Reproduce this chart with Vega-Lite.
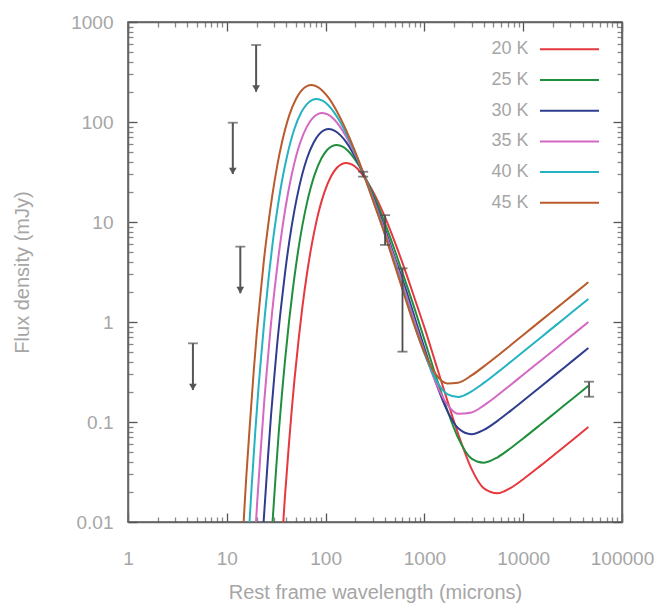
{
  "$schema": "https://vega.github.io/schema/vega-lite/v6.json",
  "width": 494,
  "height": 500,
  "autosize": {"type": "none"},
  "padding": {"left": 128, "top": 22, "right": 48, "bottom": 86},
  "background": "white",
  "config": {
    "view": {"stroke": "#555555", "strokeWidth": 1.5},
    "axis": {"grid": false, "domainColor": "#666666", "domainWidth": 1.5, "tickColor": "#555555", "tickWidth": 1.3,
      "labelColor": "#a6a6a6", "labelFont": "Liberation Sans", "labelFontSize": 19,
      "titleColor": "#a6a6a6", "titleFont": "Liberation Sans", "titleFontSize": 20, "titleFontWeight": "normal"},
    "legend": {"labelFont": "Liberation Sans"}
  },
  "datasets": {
    "curves": [
      {"T":"20 K","lam":34.0,"S":0.00234},{"T":"20 K","lam":35.6,"S":0.00498},{"T":"20 K","lam":38.8,"S":0.01816},{"T":"20 K","lam":42.1,"S":0.0527},{"T":"20 K","lam":45.3,"S":0.128},{"T":"20 K","lam":48.5,"S":0.270},{"T":"20 K","lam":53.4,"S":0.679},{"T":"20 K","lam":58.2,"S":1.409},{"T":"20 K","lam":64.7,"S":3.02},{"T":"20 K","lam":72.8,"S":6.11},{"T":"20 K","lam":80.9,"S":10.21},{"T":"20 K","lam":97.1,"S":19.77},{"T":"20 K","lam":113.3,"S":28.5},{"T":"20 K","lam":129.4,"S":34.7},{"T":"20 K","lam":145.6,"S":38.0},{"T":"20 K","lam":161.8,"S":39.0},{"T":"20 K","lam":186.1,"S":37.5},{"T":"20 K","lam":210.3,"S":34.1},{"T":"20 K","lam":250,"S":27.5},{"T":"20 K","lam":320,"S":18.0},{"T":"20 K","lam":400,"S":11.1},{"T":"20 K","lam":500,"S":6.36},{"T":"20 K","lam":630,"S":3.40},{"T":"20 K","lam":800,"S":1.70},{"T":"20 K","lam":1000,"S":0.883},{"T":"20 K","lam":1300,"S":0.386},{"T":"20 K","lam":1700,"S":0.166},{"T":"20 K","lam":2200,"S":0.0758},{"T":"20 K","lam":3000,"S":0.0340},{"T":"20 K","lam":4000,"S":0.0217},{"T":"20 K","lam":5500,"S":0.0194},{"T":"20 K","lam":7500,"S":0.0220},{"T":"20 K","lam":10000,"S":0.0268},{"T":"20 K","lam":15000,"S":0.0366},{"T":"20 K","lam":22000,"S":0.0496},{"T":"20 K","lam":32000,"S":0.0669},{"T":"20 K","lam":45700,"S":0.089},
      {"T":"25 K","lam":27.2,"S":0.00355},{"T":"25 K","lam":28.5,"S":0.00753},{"T":"25 K","lam":31.1,"S":0.0275},{"T":"25 K","lam":33.6,"S":0.0798},{"T":"25 K","lam":36.2,"S":0.1936},{"T":"25 K","lam":38.8,"S":0.409},{"T":"25 K","lam":42.7,"S":1.028},{"T":"25 K","lam":46.6,"S":2.133},{"T":"25 K","lam":51.8,"S":4.57},{"T":"25 K","lam":58.2,"S":9.25},{"T":"25 K","lam":64.7,"S":15.45},{"T":"25 K","lam":77.6,"S":29.9},{"T":"25 K","lam":90.6,"S":43.2},{"T":"25 K","lam":103.5,"S":52.5},{"T":"25 K","lam":116.5,"S":57.5},{"T":"25 K","lam":129.4,"S":59},{"T":"25 K","lam":148.8,"S":56.8},{"T":"25 K","lam":168.2,"S":51.6},{"T":"25 K","lam":194.1,"S":43.6},{"T":"25 K","lam":226.5,"S":34.3},{"T":"25 K","lam":250,"S":28.4},{"T":"25 K","lam":320,"S":16.79},{"T":"25 K","lam":400,"S":9.62},{"T":"25 K","lam":500,"S":5.25},{"T":"25 K","lam":630,"S":2.70},{"T":"25 K","lam":800,"S":1.339},{"T":"25 K","lam":1000,"S":0.666},{"T":"25 K","lam":1300,"S":0.292},{"T":"25 K","lam":1700,"S":0.132},{"T":"25 K","lam":2200,"S":0.0689},{"T":"25 K","lam":3000,"S":0.0430},{"T":"25 K","lam":4000,"S":0.0392},{"T":"25 K","lam":5500,"S":0.0444},{"T":"25 K","lam":7500,"S":0.0549},{"T":"25 K","lam":10000,"S":0.0685},{"T":"25 K","lam":15000,"S":0.0944},{"T":"25 K","lam":22000,"S":0.1282},{"T":"25 K","lam":32000,"S":0.1729},{"T":"25 K","lam":45700,"S":0.23},
      {"T":"30 K","lam":21.6,"S":0.0022},{"T":"30 K","lam":22.6,"S":0.0051},{"T":"30 K","lam":23.7,"S":0.01084},{"T":"30 K","lam":25.9,"S":0.0395},{"T":"30 K","lam":28.0,"S":0.1148},{"T":"30 K","lam":30.2,"S":0.2786},{"T":"30 K","lam":32.3,"S":0.589},{"T":"30 K","lam":35.6,"S":1.479},{"T":"30 K","lam":38.8,"S":3.07},{"T":"30 K","lam":43.1,"S":6.58},{"T":"30 K","lam":48.5,"S":13.30},{"T":"30 K","lam":53.9,"S":22.2},{"T":"30 K","lam":64.7,"S":43.1},{"T":"30 K","lam":75.5,"S":62.1},{"T":"30 K","lam":86.2,"S":75.5},{"T":"30 K","lam":97.0,"S":82.8},{"T":"30 K","lam":107.8,"S":85},{"T":"30 K","lam":124.0,"S":81.7},{"T":"30 K","lam":140.1,"S":74.3},{"T":"30 K","lam":161.7,"S":62.8},{"T":"30 K","lam":188.7,"S":49.3},{"T":"30 K","lam":215.6,"S":38.4},{"T":"30 K","lam":250,"S":27.8},{"T":"30 K","lam":320,"S":15.45},{"T":"30 K","lam":400,"S":8.43},{"T":"30 K","lam":500,"S":4.47},{"T":"30 K","lam":630,"S":2.31},{"T":"30 K","lam":800,"S":1.098},{"T":"30 K","lam":1000,"S":0.548},{"T":"30 K","lam":1300,"S":0.252},{"T":"30 K","lam":1700,"S":0.130},{"T":"30 K","lam":2200,"S":0.0865},{"T":"30 K","lam":3000,"S":0.0754},{"T":"30 K","lam":4000,"S":0.0833},{"T":"30 K","lam":5500,"S":0.1027},{"T":"30 K","lam":7500,"S":0.130},{"T":"30 K","lam":10000,"S":0.163},{"T":"30 K","lam":15000,"S":0.2256},{"T":"30 K","lam":22000,"S":0.3065},{"T":"30 K","lam":32000,"S":0.4134},{"T":"30 K","lam":45700,"S":0.55},
      {"T":"35 K","lam":18.5,"S":0.00319},{"T":"35 K","lam":19.4,"S":0.0074},{"T":"35 K","lam":20.3,"S":0.0157},{"T":"35 K","lam":22.2,"S":0.0573},{"T":"35 K","lam":24.0,"S":0.1663},{"T":"35 K","lam":25.9,"S":0.404},{"T":"35 K","lam":27.7,"S":0.853},{"T":"35 K","lam":30.5,"S":2.143},{"T":"35 K","lam":33.3,"S":4.45},{"T":"35 K","lam":37.0,"S":9.53},{"T":"35 K","lam":41.6,"S":19.28},{"T":"35 K","lam":46.2,"S":32.2},{"T":"35 K","lam":55.4,"S":62.4},{"T":"35 K","lam":64.7,"S":89.9},{"T":"35 K","lam":73.9,"S":109.4},{"T":"35 K","lam":83.2,"S":119.9},{"T":"35 K","lam":92.4,"S":123},{"T":"35 K","lam":106.3,"S":118.3},{"T":"35 K","lam":120.1,"S":107.6},{"T":"35 K","lam":138.6,"S":91.0},{"T":"35 K","lam":161.7,"S":71.4},{"T":"35 K","lam":184.8,"S":55.6},{"T":"35 K","lam":231.0,"S":34.1},{"T":"35 K","lam":250,"S":28.1},{"T":"35 K","lam":320,"S":14.76},{"T":"35 K","lam":400,"S":7.93},{"T":"35 K","lam":500,"S":4.24},{"T":"35 K","lam":630,"S":2.08},{"T":"35 K","lam":800,"S":0.987},{"T":"35 K","lam":1000,"S":0.504},{"T":"35 K","lam":1300,"S":0.249},{"T":"35 K","lam":1700,"S":0.150},{"T":"35 K","lam":2200,"S":0.1207},{"T":"35 K","lam":3000,"S":0.1244},{"T":"35 K","lam":4000,"S":0.1468},{"T":"35 K","lam":5500,"S":0.185},{"T":"35 K","lam":7500,"S":0.236},{"T":"35 K","lam":10000,"S":0.297},{"T":"35 K","lam":15000,"S":0.410},{"T":"35 K","lam":22000,"S":0.557},{"T":"35 K","lam":32000,"S":0.752},{"T":"35 K","lam":45700,"S":1.0},
      {"T":"40 K","lam":16.2,"S":0.0044},{"T":"40 K","lam":17.0,"S":0.0102},{"T":"40 K","lam":17.8,"S":0.0217},{"T":"40 K","lam":19.4,"S":0.0791},{"T":"40 K","lam":21.0,"S":0.2296},{"T":"40 K","lam":22.7,"S":0.557},{"T":"40 K","lam":24.3,"S":1.178},{"T":"40 K","lam":26.7,"S":2.958},{"T":"40 K","lam":29.1,"S":6.14},{"T":"40 K","lam":32.4,"S":13.15},{"T":"40 K","lam":36.4,"S":26.6},{"T":"40 K","lam":40.5,"S":44.5},{"T":"40 K","lam":48.5,"S":86.1},{"T":"40 K","lam":56.6,"S":124.2},{"T":"40 K","lam":64.7,"S":151.0},{"T":"40 K","lam":72.8,"S":165.6},{"T":"40 K","lam":80.9,"S":170},{"T":"40 K","lam":93.0,"S":163.3},{"T":"40 K","lam":105.2,"S":148.6},{"T":"40 K","lam":121.4,"S":125.6},{"T":"40 K","lam":141.6,"S":98.6},{"T":"40 K","lam":161.8,"S":76.7},{"T":"40 K","lam":202.3,"S":47.1},{"T":"40 K","lam":242.7,"S":30.0},{"T":"40 K","lam":320,"S":14.19},{"T":"40 K","lam":400,"S":7.44},{"T":"40 K","lam":500,"S":3.88},{"T":"40 K","lam":630,"S":1.896},{"T":"40 K","lam":800,"S":0.914},{"T":"40 K","lam":1000,"S":0.485},{"T":"40 K","lam":1300,"S":0.267},{"T":"40 K","lam":1700,"S":0.190},{"T":"40 K","lam":2200,"S":0.178},{"T":"40 K","lam":3000,"S":0.202},{"T":"40 K","lam":4000,"S":0.246},{"T":"40 K","lam":5500,"S":0.3135},{"T":"40 K","lam":7500,"S":0.401},{"T":"40 K","lam":10000,"S":0.504},{"T":"40 K","lam":15000,"S":0.697},{"T":"40 K","lam":22000,"S":0.947},{"T":"40 K","lam":32000,"S":1.278},{"T":"40 K","lam":45700,"S":1.7},
      {"T":"45 K","lam":13.7,"S":0.00237},{"T":"45 K","lam":14.4,"S":0.00607},{"T":"45 K","lam":15.1,"S":0.01406},{"T":"45 K","lam":15.8,"S":0.02985},{"T":"45 K","lam":17.3,"S":0.1089},{"T":"45 K","lam":18.7,"S":0.316},{"T":"45 K","lam":20.1,"S":0.767},{"T":"45 K","lam":21.6,"S":1.622},{"T":"45 K","lam":23.7,"S":4.07},{"T":"45 K","lam":25.9,"S":8.45},{"T":"45 K","lam":28.8,"S":18.11},{"T":"45 K","lam":32.4,"S":36.6},{"T":"45 K","lam":36.0,"S":61.2},{"T":"45 K","lam":43.1,"S":118.6},{"T":"45 K","lam":50.3,"S":171.0},{"T":"45 K","lam":57.5,"S":208.0},{"T":"45 K","lam":64.7,"S":228.0},{"T":"45 K","lam":71.9,"S":234},{"T":"45 K","lam":82.7,"S":224.9},{"T":"45 K","lam":93.5,"S":204.6},{"T":"45 K","lam":107.9,"S":173.0},{"T":"45 K","lam":125.8,"S":135.8},{"T":"45 K","lam":143.8,"S":105.7},{"T":"45 K","lam":179.8,"S":64.9},{"T":"45 K","lam":215.7,"S":41.3},{"T":"45 K","lam":250,"S":27.7},{"T":"45 K","lam":320,"S":13.92},{"T":"45 K","lam":400,"S":7.40},{"T":"45 K","lam":500,"S":3.71},{"T":"45 K","lam":630,"S":1.819},{"T":"45 K","lam":800,"S":0.891},{"T":"45 K","lam":1000,"S":0.495},{"T":"45 K","lam":1300,"S":0.301},{"T":"45 K","lam":1700,"S":0.243},{"T":"45 K","lam":2200,"S":0.247},{"T":"45 K","lam":3000,"S":0.292},{"T":"45 K","lam":4000,"S":0.360},{"T":"45 K","lam":5500,"S":0.460},{"T":"45 K","lam":7500,"S":0.589},{"T":"45 K","lam":10000,"S":0.741},{"T":"45 K","lam":15000,"S":1.026},{"T":"45 K","lam":22000,"S":1.393},{"T":"45 K","lam":32000,"S":1.879},{"T":"45 K","lam":45700,"S":2.5}
    ],
    "obs": [
      {"lam": 240, "lo": 28.4, "hi": 31.8},
      {"lam": 400, "lo": 5.9, "hi": 11.7},
      {"lam": 600, "lo": 0.505, "hi": 3.44},
      {"lam": 46400, "lo": 0.179, "hi": 0.253}
    ],
    "limits": [
      {"lam": 4.54, "top": 0.612, "tip": 0.209},
      {"lam": 11.5, "top": 98.4, "tip": 30.2},
      {"lam": 13.7, "top": 5.67, "tip": 1.94},
      {"lam": 19.8, "top": 589, "tip": 201}
    ]
  },
  "resolve": {"axis": {"x": "independent", "y": "independent"}},
  "layer": [
    {
      "data": {"name": "curves"},
      "mark": {"type": "line", "strokeWidth": 2, "interpolate": "monotone", "clip": true},
      "encoding": {
        "x": {"field": "lam", "type": "quantitative",
          "scale": {"type": "log", "domain": [1, 100000], "nice": false},
          "axis": {"orient": "bottom", "title": "Rest frame wavelength (microns)", "titlePadding": 14,
            "values": [1,10,100,1000,10000,100000], "format": "d",
            "tickSize": -9, "labelPadding": 36, "labelFlush": false, "labelOverlap": false}},
        "y": {"field": "S", "type": "quantitative",
          "scale": {"type": "log", "domain": [0.01, 1000], "nice": false},
          "axis": {"orient": "left", "title": "Flux density (mJy)", "titlePadding": 38,
            "values": [0.01,0.1,1,10,100,1000],
            "labelExpr": "'' + datum.value",
            "tickSize": -9, "labelPadding": 24, "labelOverlap": false, "labelFlush": false}},
        "color": {"field": "T", "type": "nominal",
          "scale": {"domain": ["20 K","25 K","30 K","35 K","40 K","45 K"],
                    "range": ["#e5383f","#1f8f3e","#2f3d8f","#d468c2","#23b3c3","#b95b2c"]},
          "legend": {"orient": "none", "legendX": 430.5, "legendY": 16.3, "title": null,
            "symbolType": "M-3,0H3", "symbolSize": 387, "symbolStrokeWidth": 2,
            "labelAlign": "right", "labelOffset": -52, "labelFontSize": 18, "labelColor": "#a6a6a6",
            "rowPadding": 10.7, "padding": 0}}
      }
    },
    {
      "data": {"name": "obs"},
      "mark": {"type": "rule", "color": "#4d4d4d", "strokeWidth": 1.8},
      "encoding": {
        "x": {"field": "lam", "type": "quantitative", "scale": {"type": "log", "domain": [1, 100000], "nice": false},
          "axis": {"orient": "top", "title": null, "labels": false, "values": [1,10,100,1000,10000,100000], "tickSize": -9}},
        "y": {"field": "lo", "type": "quantitative", "scale": {"type": "log", "domain": [0.01, 1000], "nice": false},
          "axis": {"orient": "right", "title": null, "labels": false, "values": [0.01,0.1,1,10,100,1000], "tickSize": -9}},
        "y2": {"field": "hi"}
      }
    },
    {
      "data": {"name": "obs"},
      "transform": [{"fold": ["lo", "hi"], "as": ["end", "val"]}],
      "mark": {"type": "tick", "orient": "horizontal", "color": "#4d4d4d", "size": 10, "thickness": 1.8},
      "encoding": {
        "x": {"field": "lam", "type": "quantitative", "scale": {"type": "log", "domain": [1, 100000], "nice": false},
          "axis": {"orient": "bottom", "title": null, "labels": false, "domain": false, "tickSize": -5, "tickOpacity": 0.7,
            "values": [2,3,4,5,6,7,8,9,20,30,40,50,60,70,80,90,200,300,400,500,600,700,800,900,2000,3000,4000,5000,6000,7000,8000,9000,20000,30000,40000,50000,60000,70000,80000,90000]}},
        "y": {"field": "val", "type": "quantitative", "scale": {"type": "log", "domain": [0.01, 1000], "nice": false},
          "axis": {"orient": "left", "title": null, "labels": false, "domain": false, "tickSize": -5, "tickOpacity": 0.7,
            "values": [0.02,0.03,0.04,0.05,0.06,0.07,0.08,0.09,0.2,0.3,0.4,0.5,0.6,0.7,0.8,0.9,2,3,4,5,6,7,8,9,20,30,40,50,60,70,80,90,200,300,400,500,600,700,800,900]}}
      }
    },
    {
      "data": {"name": "limits"},
      "mark": {"type": "rule", "color": "#555555", "strokeWidth": 2},
      "encoding": {
        "x": {"field": "lam", "type": "quantitative", "scale": {"type": "log", "domain": [1, 100000], "nice": false},
          "axis": {"orient": "top", "title": null, "labels": false, "domain": false, "tickSize": -5, "tickOpacity": 0.7,
            "values": [2,3,4,5,6,7,8,9,20,30,40,50,60,70,80,90,200,300,400,500,600,700,800,900,2000,3000,4000,5000,6000,7000,8000,9000,20000,30000,40000,50000,60000,70000,80000,90000]}},
        "y": {"field": "top", "type": "quantitative", "scale": {"type": "log", "domain": [0.01, 1000], "nice": false},
          "axis": {"orient": "right", "title": null, "labels": false, "domain": false, "tickSize": -5, "tickOpacity": 0.7,
            "values": [0.02,0.03,0.04,0.05,0.06,0.07,0.08,0.09,0.2,0.3,0.4,0.5,0.6,0.7,0.8,0.9,2,3,4,5,6,7,8,9,20,30,40,50,60,70,80,90,200,300,400,500,600,700,800,900]}},
        "y2": {"field": "tip"}
      }
    },
    {
      "data": {"name": "limits"},
      "mark": {"type": "tick", "orient": "horizontal", "color": "#555555", "size": 10, "thickness": 1.8},
      "encoding": {
        "x": {"field": "lam", "type": "quantitative", "scale": {"type": "log", "domain": [1, 100000], "nice": false}, "axis": null},
        "y": {"field": "top", "type": "quantitative", "scale": {"type": "log", "domain": [0.01, 1000], "nice": false}, "axis": null}
      }
    },
    {
      "data": {"name": "limits"},
      "mark": {"type": "point", "shape": "triangle-down", "filled": true, "color": "#555555", "size": 60, "opacity": 1, "yOffset": -3},
      "encoding": {
        "x": {"field": "lam", "type": "quantitative", "scale": {"type": "log", "domain": [1, 100000], "nice": false}, "axis": null},
        "y": {"field": "tip", "type": "quantitative", "scale": {"type": "log", "domain": [0.01, 1000], "nice": false}, "axis": null}
      }
    }
  ]
}
